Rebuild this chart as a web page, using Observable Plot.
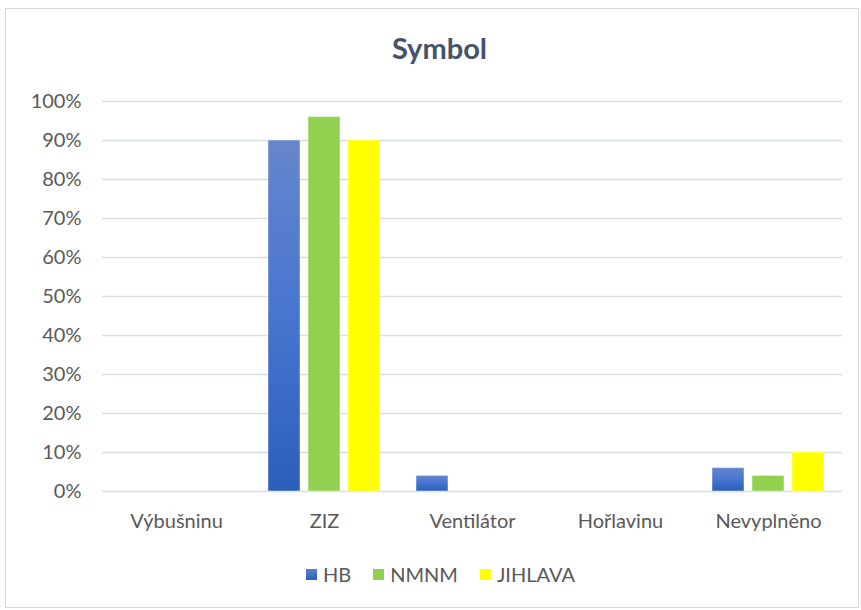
<!DOCTYPE html>
<html>
<head>
<meta charset="utf-8">
<script src="https://cdn.jsdelivr.net/npm/d3@7"></script>
<script src="https://cdn.jsdelivr.net/npm/@observablehq/plot@0.6"></script>
<style>
  html, body { margin: 0; padding: 0; background: #fff; }
  #wrap { position: relative; width: 861px; height: 610px; font-family: Lato, "Open Sans", sans-serif; }
  #frame { position: absolute; left: 5px; top: 8px; width: 854px; height: 600px; border: 1px solid #d9d9d9; box-sizing: border-box; }
  #title { position: absolute; left: 0; width: 861px; top: 30px; text-align: center; font-size: 29px; font-weight: bold; color: #44546a; padding-left: 18px; box-sizing: border-box; }
  #chart { position: absolute; left: 0; top: 0; }
  #legend { position: absolute; top: 562px; left: 0; width: 861px; display: flex; justify-content: center; gap: 22px; font-size: 20px; color: #595959; padding-left: 20px; box-sizing: border-box; }
  .item { display: flex; align-items: center; gap: 6px; }
  .sw { width: 11px; height: 11px; display: inline-block; }
</style>
</head>
<body>
<div id="wrap">
  <div id="frame"></div>
  <div id="chart"></div>
  <div id="title">Symbol</div>
  <div id="legend"></div>
</div>
<script>
const categories = ["Výbušninu", "ZIZ", "Ventilátor", "Hořlavinu", "Nevyplněno"];
const seriesNames = ["HB", "NMNM", "JIHLAVA"];
const HB = [0, 0.90, 0.04, 0, 0.06];
const NMNM = [0, 0.96, 0, 0, 0.04];
const JIHLAVA = [0, 0.90, 0, 0, 0.10];
const yTicks = [0, 0.1, 0.2, 0.3, 0.4, 0.5, 0.6, 0.7, 0.8, 0.9, 1.0];
const colors = ["url(#gradHB)", "#92d050", "#ffff00"];

const valuesBySeries = { HB, NMNM, JIHLAVA };
const data = [];
categories.forEach((c, i) => {
  seriesNames.forEach(s => data.push({ category: c, series: s, value: valuesBySeries[s][i] }));
});

const chart = Plot.plot({
  width: 861,
  height: 555,
  marginLeft: 101,
  marginRight: 19,
  marginTop: 101,
  marginBottom: 64,
  style: { fontFamily: "Lato, 'Open Sans', sans-serif", fontSize: "20px", color: "#595959", background: "transparent" },
  fx: { domain: categories, padding: 0, label: null, axis: "bottom", tickSize: 0, tickPadding: 22 },
  x: { domain: seriesNames, paddingInner: 0.195, paddingOuter: 0.415, axis: null },
  y: { domain: [0, 1], ticks: yTicks, label: null, tickFormat: d3.format(".0%"), tickSize: 0, tickPadding: 21 },
  color: { domain: seriesNames, range: colors },
  marks: [
    Plot.gridY({ ticks: yTicks, stroke: "#d9dde6", strokeOpacity: 1, strokeWidth: 1.5 }),
    Plot.barY(data, {
      fx: "category", x: "series", y: "value", fill: "series",
      stroke: "white", strokeOpacity: 0.45, strokeWidth: 1
    })
  ]
});

// gradient for HB bars
const ns = "http://www.w3.org/2000/svg";
const defs = document.createElementNS(ns, "defs");
defs.innerHTML = `<linearGradient id="gradHB" x1="0" y1="0" x2="0" y2="1">
  <stop offset="0%" stop-color="#6686cc"/>
  <stop offset="50%" stop-color="#4775d0"/>
  <stop offset="100%" stop-color="#2c5fba"/>
</linearGradient>`;
chart.insertBefore(defs, chart.firstChild);
document.getElementById("chart").appendChild(chart);

const legend = document.getElementById("legend");
const legendFills = ["linear-gradient(#5b7fcc, #2c5fba)", "#92d050", "#ffff00"];
seriesNames.forEach((s, i) => {
  const it = document.createElement("div");
  it.className = "item";
  it.innerHTML = `<span class="sw" style="background:${legendFills[i]}"></span><span>${s}</span>`;
  legend.appendChild(it);
});
</script>
</body>
</html>
